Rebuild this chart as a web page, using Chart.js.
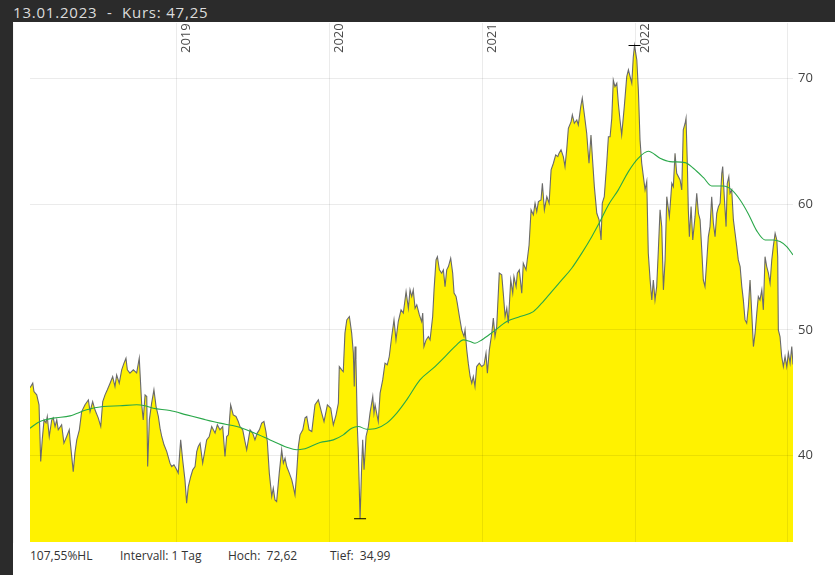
<!DOCTYPE html>
<html>
<head>
<meta charset="utf-8">
<script src="https://cdn.jsdelivr.net/npm/chart.js@4/dist/chart.umd.min.js"></script>
<style>
  html, body { margin:0; padding:0; }
  body { width:835px; height:575px; background:#fff; position:relative; overflow:hidden; font-family:'Open Sans', sans-serif; }
  #topbar { position:absolute; left:0; top:0; width:835px; height:22px; background:#2b2b2b; }
  #leftbar { position:absolute; left:0; top:0; width:13px; height:575px; background:#2b2b2b; }
  #title { position:absolute; left:13px; top:1px; height:22px; line-height:22px; color:#dcdcdc; font-size:15px; letter-spacing:0.8px; white-space:pre; }
  #c { position:absolute; left:13px; top:22px; }
  .ft { position:absolute; top:548px; font-size:12px; line-height:16px; color:#333; white-space:pre; }
</style>
</head>
<body>
<div id="topbar"></div>
<div id="leftbar"></div>
<div id="title">13.01.2023  -  Kurs: 47,25</div>
<canvas id="c" width="822" height="521"></canvas>
<div class="ft" style="left:30px">107,55%HL</div>
<div class="ft" style="left:120px">Intervall: 1 Tag</div>
<div class="ft" style="left:228px">Hoch:  72,62</div>
<div class="ft" style="left:330px">Tief:  34,99</div>
<script>
// Price series (decimal year, value)
const priceT = [
2018.040,2018.058,2018.066,2018.084,2018.099,2018.110,2018.120,2018.132,2018.145,2018.153,
2018.166,2018.182,2018.192,2018.204,2018.215,2018.225,2018.247,2018.262,2018.280,2018.297,
2018.302,2018.323,2018.334,2018.346,2018.363,2018.378,2018.400,2018.422,2018.433,2018.450,
2018.465,2018.487,2018.503,2018.516,2018.531,2018.546,2018.564,2018.581,2018.596,2018.607,
2018.624,2018.640,2018.655,2018.668,2018.677,2018.694,2018.716,2018.738,2018.755,2018.771,
2018.781,2018.793,2018.804,2018.810,2018.821,2018.836,2018.851,2018.865,2018.880,2018.891,
2018.902,2018.917,2018.935,2018.956,2018.967,2018.982,2019.000,2019.010,2019.026,2019.039,
2019.054,2019.065,2019.076,2019.092,2019.105,2019.120,2019.131,2019.141,2019.153,2019.170,
2019.185,2019.196,2019.213,2019.229,2019.251,2019.266,2019.283,2019.301,2019.316,2019.327,
2019.338,2019.353,2019.370,2019.388,2019.403,2019.414,2019.432,2019.447,2019.458,2019.469,
2019.480,2019.497,2019.512,2019.527,2019.541,2019.556,2019.571,2019.584,2019.593,2019.606,
2019.622,2019.632,2019.643,2019.654,2019.671,2019.687,2019.698,2019.709,2019.720,2019.737,
2019.753,2019.763,2019.774,2019.785,2019.796,2019.807,2019.825,2019.840,2019.851,2019.866,
2019.884,2019.905,2019.927,2019.949,2019.964,2019.986,2020.008,2020.025,2020.043,2020.058,
2020.064,2020.080,2020.090,2020.101,2020.113,2020.130,2020.145,2020.156,2020.162,2020.167,
2020.173,2020.182,2020.188,2020.200,2020.211,2020.217,2020.226,2020.239,2020.254,2020.265,
2020.283,2020.291,2020.298,2020.319,2020.331,2020.348,2020.363,2020.378,2020.391,2020.407,
2020.422,2020.435,2020.450,2020.468,2020.483,2020.501,2020.516,2020.527,2020.538,2020.548,
2020.560,2020.571,2020.588,2020.603,2020.610,2020.618,2020.632,2020.647,2020.658,2020.675,
2020.684,2020.697,2020.706,2020.719,2020.734,2020.745,2020.756,2020.767,2020.778,2020.793,
2020.806,2020.815,2020.828,2020.836,2020.850,2020.865,2020.880,2020.887,2020.898,2020.908,
2020.920,2020.931,2020.941,2020.952,2020.963,2020.980,2020.996,2021.011,2021.024,2021.033,
2021.046,2021.062,2021.072,2021.083,2021.094,2021.111,2021.127,2021.137,2021.149,2021.160,
2021.170,2021.186,2021.199,2021.207,2021.221,2021.229,2021.242,2021.258,2021.268,2021.286,
2021.306,2021.319,2021.334,2021.345,2021.356,2021.367,2021.384,2021.393,2021.406,2021.422,
2021.437,2021.450,2021.465,2021.480,2021.494,2021.502,2021.515,2021.530,2021.541,2021.552,
2021.563,2021.581,2021.589,2021.602,2021.618,2021.628,2021.644,2021.654,2021.668,2021.683,
2021.698,2021.711,2021.720,2021.733,2021.749,2021.764,2021.777,2021.785,2021.798,2021.814,
2021.825,2021.836,2021.847,2021.857,2021.868,2021.880,2021.890,2021.901,2021.912,2021.929,
2021.945,2021.956,2021.967,2021.978,2021.988,2021.996,2022.011,2022.021,2022.032,2022.043,
2022.054,2022.065,2022.076,2022.086,2022.098,2022.109,2022.119,2022.130,2022.141,2022.152,
2022.163,2022.174,2022.185,2022.196,2022.207,2022.224,2022.240,2022.250,2022.261,2022.272,
2022.294,2022.305,2022.315,2022.327,2022.333,2022.342,2022.348,2022.355,2022.366,2022.377,
2022.392,2022.403,2022.414,2022.425,2022.436,2022.446,2022.457,2022.469,2022.479,2022.490,
2022.501,2022.512,2022.523,2022.534,2022.545,2022.556,2022.567,2022.573,2022.582,2022.595,
2022.603,2022.613,2022.621,2022.632,2022.643,2022.654,2022.665,2022.675,2022.687,2022.698,
2022.708,2022.719,2022.730,2022.741,2022.752,2022.763,2022.774,2022.785,2022.796,2022.806,
2022.817,2022.829,2022.839,2022.850,2022.861,2022.872,2022.883,2022.894,2022.904,2022.916,
2022.927,2022.933,2022.937,2022.948,2022.959,2022.970,2022.981,2022.992,2023.003,2023.014,
2023.025,2023.033
];
const priceV = [
45.40,45.77,45.10,44.84,44.05,39.54,41.26,42.85,42.62,43.12,
41.53,42.85,43.01,42.32,42.85,42.06,42.46,41.00,41.53,42.06,
41.26,38.74,40.23,41.26,42.06,43.51,44.05,44.44,43.51,44.31,
43.65,42.99,42.32,44.31,44.84,45.24,45.77,46.30,45.50,46.43,
45.77,46.83,47.36,47.76,46.83,46.57,46.83,46.59,47.76,44.05,
42.85,44.84,44.71,39.14,42.85,44.18,45.24,43.91,43.12,42.19,
41.53,40.87,40.33,39.41,39.14,39.28,38.88,38.62,41.26,39.67,
38.08,36.23,37.55,38.35,38.88,39.14,40.33,40.73,41.00,39.41,
40.47,41.26,41.53,42.32,41.80,42.46,42.06,42.32,39.94,41.53,
41.66,44.05,43.25,43.12,42.72,42.32,42.06,41.13,40.47,41.26,
42.06,41.80,41.26,41.80,42.06,42.59,42.72,41.92,41.13,38.62,
36.76,37.42,36.49,36.36,38.62,40.47,39.41,39.81,39.14,38.62,
38.08,37.55,36.89,38.62,40.73,41.66,42.06,43.01,43.12,42.06,
41.92,44.05,44.44,43.39,42.72,44.05,43.78,42.46,43.25,44.18,
47.09,46.83,46.69,49.75,50.80,51.07,49.75,48.16,45.50,48.68,
47.62,42.32,40.47,34.99,39.41,41.26,38.88,41.53,42.32,43.39,
44.71,43.39,44.05,42.72,44.98,46.03,47.36,47.23,47.89,49.48,
50.80,49.21,50.67,51.60,51.34,53.05,51.73,53.19,52.66,53.19,
51.73,52.00,51.20,50.67,51.34,48.68,49.21,49.48,49.21,51.07,
53.19,55.57,55.83,54.78,54.52,54.78,53.45,54.78,55.04,55.71,
54.52,52.93,52.66,52.13,51.07,50.01,49.48,50.01,48.42,47.36,
46.30,45.77,46.30,45.50,47.09,47.36,47.09,47.23,48.16,46.57,
48.42,49.75,50.94,49.48,50.27,54.52,54.38,52.93,51.07,51.73,
50.54,53.98,52.93,54.25,53.45,54.52,54.78,52.93,55.31,54.78,
56.76,59.55,59.15,60.08,59.41,60.21,60.34,61.67,59.55,60.60,
60.08,62.73,63.26,63.92,63.78,64.05,64.32,63.78,62.99,64.32,
66.04,66.57,67.10,66.44,66.70,66.30,67.76,68.43,67.10,65.64,
63.26,65.51,63.78,61.40,59.28,58.75,57.16,60.08,60.60,63.26,
65.37,65.37,66.84,69.88,69.35,69.62,68.03,66.70,65.51,67.76,
70.14,70.68,70.14,69.62,71.73,72.62,71.47,69.09,65.11,63.26,
62.19,61.14,61.80,56.11,53.98,52.39,53.98,52.39,53.45,56.37,
59.55,58.22,53.19,55.57,60.60,59.01,61.67,61.40,64.05,62.46,
61.93,61.14,65.91,66.44,66.84,62.99,59.55,57.42,59.81,57.16,
59.01,60.87,59.28,58.75,56.37,53.98,53.45,55.57,57.42,58.22,
60.60,58.49,57.42,59.28,59.81,60.08,62.46,62.99,60.87,58.22,
61.67,62.19,60.87,61.14,58.75,57.69,56.63,55.57,55.04,53.45,
52.39,50.80,50.54,51.86,53.98,51.34,48.68,49.75,51.34,52.66,
52.39,53.19,51.60,55.83,55.04,54.52,53.72,55.57,56.63,57.69,
57.16,55.83,50.01,49.48,47.89,47.09,47.89,47.09,48.16,47.36,
48.68,47.25
];
// Moving average (green)
const maT = [2018.040,2018.105,2018.192,2018.302,2018.411,2018.520,2018.629,2018.738,2018.793,2018.847,2018.956,
2019.065,2019.174,2019.283,2019.393,2019.501,2019.611,2019.720,2019.785,2019.829,2019.938,
2020.025,2020.090,2020.145,2020.188,2020.243,2020.309,2020.374,2020.440,2020.505,2020.592,2020.679,2020.767,2020.832,2020.876,2020.920,2020.952,2020.996,
2021.072,2021.160,2021.247,2021.334,2021.389,2021.454,2021.520,2021.585,2021.651,2021.716,2021.770,2021.825,2021.890,2021.956,
2022.021,2022.086,2022.163,2022.228,2022.327,2022.381,2022.446,2022.501,2022.577,2022.632,2022.687,2022.741,2022.796,2022.850,2022.904,2022.948,2022.992,2023.033];
const maV = [42.19,42.72,42.99,43.17,43.65,43.91,43.97,44.05,43.97,43.78,43.59,
43.25,42.91,42.59,42.32,41.84,41.26,40.68,40.47,40.53,41.05,
41.26,41.66,42.19,42.32,42.11,42.19,42.59,43.39,44.44,46.03,46.96,48.02,48.82,49.21,49.08,48.95,49.21,
49.87,50.67,51.07,51.46,52.13,53.05,53.98,54.91,56.11,57.42,58.62,59.94,61.14,62.59,
63.66,64.21,63.66,63.39,63.31,62.86,62.13,61.45,61.45,61.14,60.34,59.23,57.88,57.16,57.16,57.03,56.63,55.97];
// High / low markers
const extremeT = [2021.996, 2020.200];
const extremeV = [72.62, 34.99];
// Axis ticks
const yearTicks = [2019, 2020, 2021, 2022, 2023];
const yearLabels = ['2019', '2020', '2021', '2022', ''];
const yTicks = [40, 50, 60, 70];

const xMin = 2018.040, xMax = 2023.033, yMin = 33.14, yMax = 74.41;

Chart.defaults.font.family = "'Open Sans', sans-serif";
const price = priceT.map((t, i) => ({x: t, y: priceV[i]}));
const ma = maT.map((t, i) => ({x: t, y: maV[i]}));
const extremes = extremeT.map((t, i) => ({x: t, y: extremeV[i]}));
const gridColor = 'rgba(0,0,0,0.08)';

new Chart(document.getElementById('c'), {
  type: 'line',
  data: {
    datasets: [
      { type: 'scatter', label: 'Hoch/Tief', data: extremes, showLine: false,
        pointStyle: 'line', pointRadius: 6, pointHoverRadius: 6,
        pointBorderColor: '#000', pointBorderWidth: 1, borderColor: '#000', order: 0, clip: false },
      { label: 'GD', data: ma, borderColor: '#2aa84a', borderWidth: 1.1,
        pointRadius: 0, fill: false, cubicInterpolationMode: 'monotone', order: 1 },
      { label: 'Kurs', data: price, borderColor: '#6a6a6a', borderWidth: 1.1,
        backgroundColor: '#fff200', fill: 'start', pointRadius: 0, tension: 0, order: 2 }
    ]
  },
  options: {
    responsive: false, animation: false, devicePixelRatio: 1,
    layout: { autoPadding: false, padding: { left: 17, top: 1, right: 0, bottom: 1 } },
    plugins: { legend: { display: false }, tooltip: { enabled: false } },
    scales: {
      x: {
        type: 'linear', position: 'top', min: xMin, max: xMax,
        afterBuildTicks: s => { s.ticks = yearTicks.map(v => ({ value: v })); },
        afterFit: s => { s.height = 0; s.paddingLeft = 0; s.paddingRight = 0; s.paddingTop = 0; s.paddingBottom = 0; },
        grid: { color: gridColor, drawTicks: false, z: 1 },
        border: { display: false },
        ticks: { autoSkip: false, mirror: true, minRotation: 90, maxRotation: 90, padding: 30, labelOffset: 10,
                 color: '#4a4a4a', font: { size: 13 }, z: 2,
                 callback: (v, i) => yearLabels[i] }
      },
      y: {
        position: 'right', min: yMin, max: yMax,
        afterBuildTicks: s => { s.ticks = yTicks.map(v => ({ value: v })); },
        afterFit: s => { s.width = 42; s.paddingTop = 0; s.paddingBottom = 0; },
        grid: { color: gridColor, drawTicks: false, z: 1 },
        border: { display: true, color: 'rgba(0,0,0,0.07)', width: 1 },
        ticks: { padding: 5, color: '#444', font: { size: 13 } }
      }
    }
  }
});
</script>
</body>
</html>
